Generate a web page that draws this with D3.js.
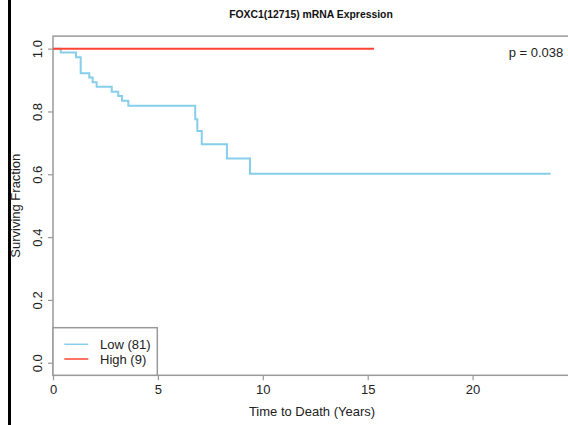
<!DOCTYPE html>
<html>
<head>
<meta charset="utf-8">
<script src="https://cdn.jsdelivr.net/npm/d3@7"></script>
<style>
  html, body { margin: 0; padding: 0; background: #fff; }
  svg { display: block; font-family: "Liberation Sans", Arial, sans-serif; }
</style>
</head>
<body>
<svg id="chart" width="568" height="425"></svg>
<script>
// Kaplan-Meier step curves: event times (years) and surviving fraction after each step
const lowTimes = [0, 0.37, 1.10, 1.32, 1.73, 1.89, 2.08, 2.80, 3.11, 3.29, 3.59, 6.78, 6.88, 7.09, 8.29, 9.39];
const lowSurv  = [1.0, 0.988, 0.973, 0.922, 0.908, 0.893, 0.879, 0.863, 0.849, 0.834, 0.818, 0.775, 0.738, 0.696, 0.650, 0.602];
const lowEnd = 23.72;

const highTimes = [0];
const highSurv  = [1.0];
const highEnd = 15.3;

const seriesNames = ["Low (81)", "High (9)"];
const seriesColors = ["#87CEEB", "#FF4433"];

const xTicks = [0, 5, 10, 15, 20];
const yTicks = [0.0, 0.2, 0.4, 0.6, 0.8, 1.0];

const titleText = "FOXC1(12715) mRNA Expression";
const xLabel = "Time to Death (Years)";
const yLabel = "Surviving Fraction";
const pText = "p = 0.038";

const svg = d3.select("#chart");

// plot region
const plotLeft = 53, plotTop = 36.1, plotBottom = 375.3, plotRight = 578;
const pxPerYear = 20.98;

const x = d3.scaleLinear().domain([0, (plotRight - plotLeft) / pxPerYear]).range([plotLeft, plotRight]);
const y = d3.scaleLinear().domain([-0.04, 1.04]).range([plotBottom, plotTop]);

const axisColor = "#999";
const textColor = "#222";

// black rule on the far left
svg.append("rect").attr("x", 8).attr("y", 0).attr("width", 3).attr("height", 425).attr("fill", "#000");

// plot box
svg.append("rect")
  .attr("x", plotLeft).attr("y", plotTop)
  .attr("width", plotRight - plotLeft).attr("height", plotBottom - plotTop)
  .attr("fill", "none").attr("stroke", axisColor).attr("stroke-width", 1.5);

// x axis
const xAxis = d3.axisBottom(x).tickValues(xTicks).tickSize(5).tickPadding(4).tickFormat(d3.format("d"));
const gx = svg.append("g").attr("transform", `translate(0,${plotBottom})`).call(xAxis);
gx.select(".domain").remove();
gx.selectAll(".tick line").attr("stroke", axisColor).attr("stroke-width", 1.2);
gx.selectAll(".tick text").attr("fill", textColor).attr("font-size", 13)
  .attr("font-family", "Liberation Sans, Arial, sans-serif")
  .attr("y", 19).attr("dy", 0);

// y axis with labels turned parallel to the axis
const yAxis = d3.axisLeft(y).tickValues(yTicks).tickSize(5).tickFormat(d3.format(".1f"));
const gy = svg.append("g").attr("transform", `translate(${plotLeft},0)`).call(yAxis);
gy.select(".domain").remove();
gy.selectAll(".tick line").attr("stroke", axisColor).attr("stroke-width", 1.2);
gy.selectAll(".tick text")
  .attr("fill", textColor).attr("font-size", 13)
  .attr("font-family", "Liberation Sans, Arial, sans-serif")
  .attr("x", null).attr("dy", null)
  .attr("text-anchor", "middle")
  .attr("transform", "translate(-10.7,0) rotate(-90)");

// survival curves
const line = d3.line().x(d => x(d[0])).y(d => y(d[1])).curve(d3.curveStepAfter);
function pts(times, surv, end) {
  const p = times.map((t, i) => [t, surv[i]]);
  p.push([end, surv[surv.length - 1]]);
  return p;
}
svg.append("path").datum(pts(lowTimes, lowSurv, lowEnd))
  .attr("d", line).attr("fill", "none").attr("stroke", seriesColors[0]).attr("stroke-width", 2);
svg.append("path").datum(pts(highTimes, highSurv, highEnd))
  .attr("d", line).attr("fill", "none").attr("stroke", seriesColors[1]).attr("stroke-width", 2);

// title
svg.append("text").attr("x", 311).attr("y", 18.3).attr("text-anchor", "middle")
  .attr("font-size", 10.4).attr("font-weight", "bold").attr("fill", "#111").text(titleText);

// axis titles
svg.append("text").attr("x", 312).attr("y", 415.7).attr("text-anchor", "middle")
  .attr("font-size", 13).attr("fill", textColor).text(xLabel);
svg.append("text").attr("transform", `translate(20,${(plotTop + plotBottom) / 2}) rotate(-90)`)
  .attr("text-anchor", "middle").attr("font-size", 13).attr("fill", textColor).text(yLabel);

// p-value
svg.append("text").attr("x", 563.3).attr("y", 56.7).attr("text-anchor", "end")
  .attr("font-size", 13).attr("fill", textColor).text(pText);

// legend in the bottom-left corner of the plot
const legW = 104.3, legH = 47.6, legRowH = 14.7;
const leg = svg.append("g").attr("transform", `translate(${plotLeft},${plotBottom - legH})`);
leg.append("rect").attr("width", legW).attr("height", legH)
  .attr("fill", "#fff").attr("stroke", axisColor).attr("stroke-width", 1.5);
seriesNames.forEach((name, i) => {
  const ly = 16.6 + i * legRowH;
  leg.append("line").attr("x1", 11.3).attr("x2", 35.3).attr("y1", ly).attr("y2", ly)
    .attr("stroke", seriesColors[i]).attr("stroke-width", 1.5);
  leg.append("text").attr("x", 47).attr("y", ly + 5).attr("font-size", 13)
    .attr("fill", textColor).text(name);
});
</script>
</body>
</html>
